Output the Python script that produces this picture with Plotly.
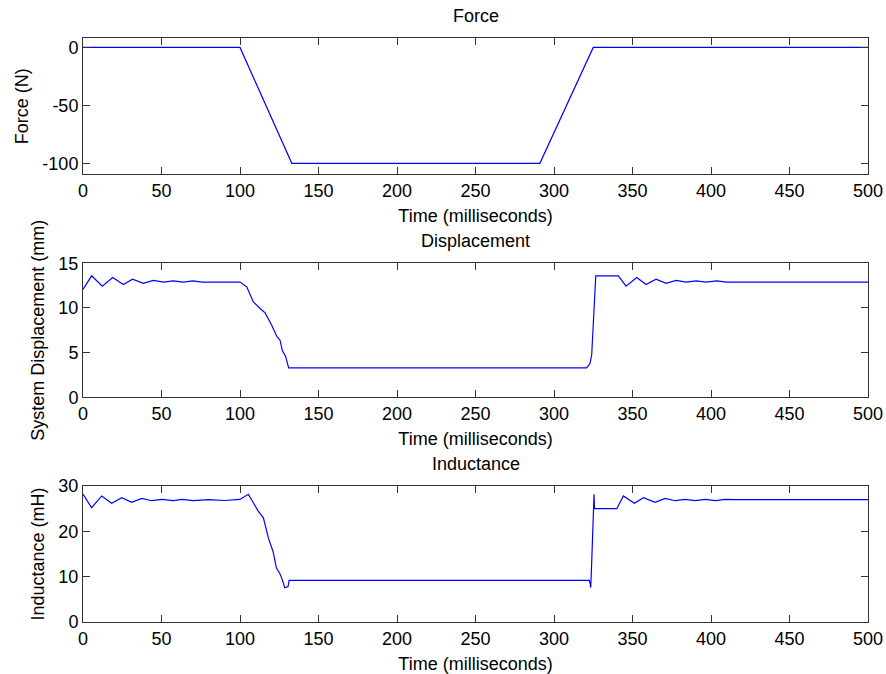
import plotly.graph_objects as go

# ---------------- data ----------------
force_t = [0, 100, 133, 291, 325, 500]
force_v = [0, 0, -100, -100, 0, 0]

disp_t = [0, 5.5, 12.3, 18.9, 25.7, 31.6, 38.4, 44.8, 51.2, 57.5, 63.8, 70, 76, 100,
          104.3, 108.5, 112.8, 116, 120.2, 123.4, 125.5, 127, 129, 130.5, 131,
          320.8, 322.9, 324, 324.7, 325.6, 326.6, 341, 345.9, 352.7, 358.6, 365,
          371.4, 377.8, 384.1, 390.5, 396.9, 403.7, 410, 500]
disp_v = [12.07, 13.6, 12.44, 13.42, 12.63, 13.23, 12.75, 13.08, 12.89, 13.04, 12.89, 13.04, 12.9, 12.9,
          12.37, 10.68, 9.94, 9.45, 8.07, 6.84, 6.39, 5.2, 4.6, 3.3, 3.29,
          3.29, 3.78, 4.7, 6.95, 11.06, 13.6, 13.6, 12.44, 13.42, 12.63, 13.23,
          12.75, 13.08, 12.89, 13.04, 12.89, 13.04, 12.9, 12.9]

ind_t = [0, 5.5, 11.9, 18.3, 24.7, 31, 37.4, 43.8, 50.2, 57.6, 63, 70, 80, 90, 100,
         105.3, 108.5, 111.7, 114.9, 118.1, 121.1, 123.2, 125.3, 127, 128.5, 130.6, 131.3,
         322.5, 323, 323.4, 324, 325, 325.5, 325.8, 340, 344.2, 351.2, 357, 364.4,
         370.8, 377.2, 383.6, 390, 396.4, 402.8, 409.2, 415, 500]
ind_v = [28.2, 25.2, 27.8, 26.2, 27.4, 26.4, 27.27, 26.75, 27.04, 26.75, 27.04, 26.75, 27.0, 26.8, 27.04,
         28.16, 26.3, 24.4, 22.97, 18.5, 15.5, 11.9, 10.75, 9.3, 7.56, 7.8, 9.2,
         9.2, 8.5, 7.6, 13.0, 24.8, 28.2, 25.0, 25.0, 27.8, 26.2, 27.4, 26.4,
         27.27, 26.75, 27.04, 26.75, 27.04, 26.75, 27.04, 27.0, 27.0]

x_ticks = [0, 50, 100, 150, 200, 250, 300, 350, 400, 450, 500]
force_ticks = [-100, -50, 0]
force_ticktext = ["-100", "-50", "0"]
disp_ticks = [0, 5, 10, 15]
ind_ticks = [0, 10, 20, 30]

titles = ["Force", "Displacement", "Inductance"]
ylabels = ["Force (N)", "System Displacement (mm)", "Inductance (mH)"]
xlabel = "Time (milliseconds)"

# ---------------- figure ----------------
FONT = "Liberation Sans, Arial, sans-serif"
AX = "#333333"
fig = go.Figure()
line = dict(color="#0000ff", width=1.2)
fig.add_trace(go.Scatter(x=force_t, y=force_v, mode="lines", line=line, xaxis="x", yaxis="y", showlegend=False))
fig.add_trace(go.Scatter(x=disp_t, y=disp_v, mode="lines", line=line, xaxis="x2", yaxis="y2", showlegend=False))
fig.add_trace(go.Scatter(x=ind_t, y=ind_v, mode="lines", line=line, xaxis="x3", yaxis="y3", showlegend=False))

common = dict(showline=True, linecolor=AX, linewidth=1, mirror="ticks", ticks="inside",
              ticklen=7, tickcolor=AX, tickwidth=1, showgrid=False, zeroline=False,
              automargin=False, ticklabeloverflow="allow",
              tickfont=dict(size=18, color="black", family=FONT))

def xax(anchor):
    return dict(common, range=[0, 500], tickvals=x_ticks, anchor=anchor,
                title=dict(text=xlabel, font=dict(size=18, color="black", family=FONT), standoff=9))

def yax(anchor, rng, tv, tt, dom, label):
    return dict(common, range=rng, tickvals=tv, ticktext=tt, anchor=anchor, domain=dom,
                title=dict(text=label, font=dict(size=18, color="black", family=FONT), standoff=9))

doms = [[0.7666, 1.0], [0.3848, 0.6142], [0.0, 0.2329]]

fig.update_layout(
    template="none",
    width=886, height=674,
    margin=dict(l=83, r=18, t=38, b=52),
    paper_bgcolor="white", plot_bgcolor="white",
    font=dict(family=FONT, size=18, color="black"),
    xaxis=xax("y"), xaxis2=xax("y2"), xaxis3=xax("y3"),
    yaxis=yax("x", [-109.5, 8.1], force_ticks, force_ticktext, doms[0], ylabels[0]),
    yaxis2=yax("x2", [0, 15], disp_ticks, [str(v) for v in disp_ticks], doms[1], ylabels[1]),
    yaxis3=yax("x3", [0, 30], ind_ticks, [str(v) for v in ind_ticks], doms[2], ylabels[2]),
)

title_y = [1.0377, 0.6524, 0.2705]
for t, ty in zip(titles, title_y):
    fig.add_annotation(text=t, xref="paper", yref="paper", x=0.5, y=ty,
                       xanchor="center", yanchor="middle", showarrow=False,
                       font=dict(size=18, color="black", family=FONT))

# remove the browser's default 8px body margin so the figure fills the window exactly
fig.write_html("out.html", config={"displayModeBar": False},
               post_script="document.body.style.margin='0';document.body.style.overflow='hidden';")
